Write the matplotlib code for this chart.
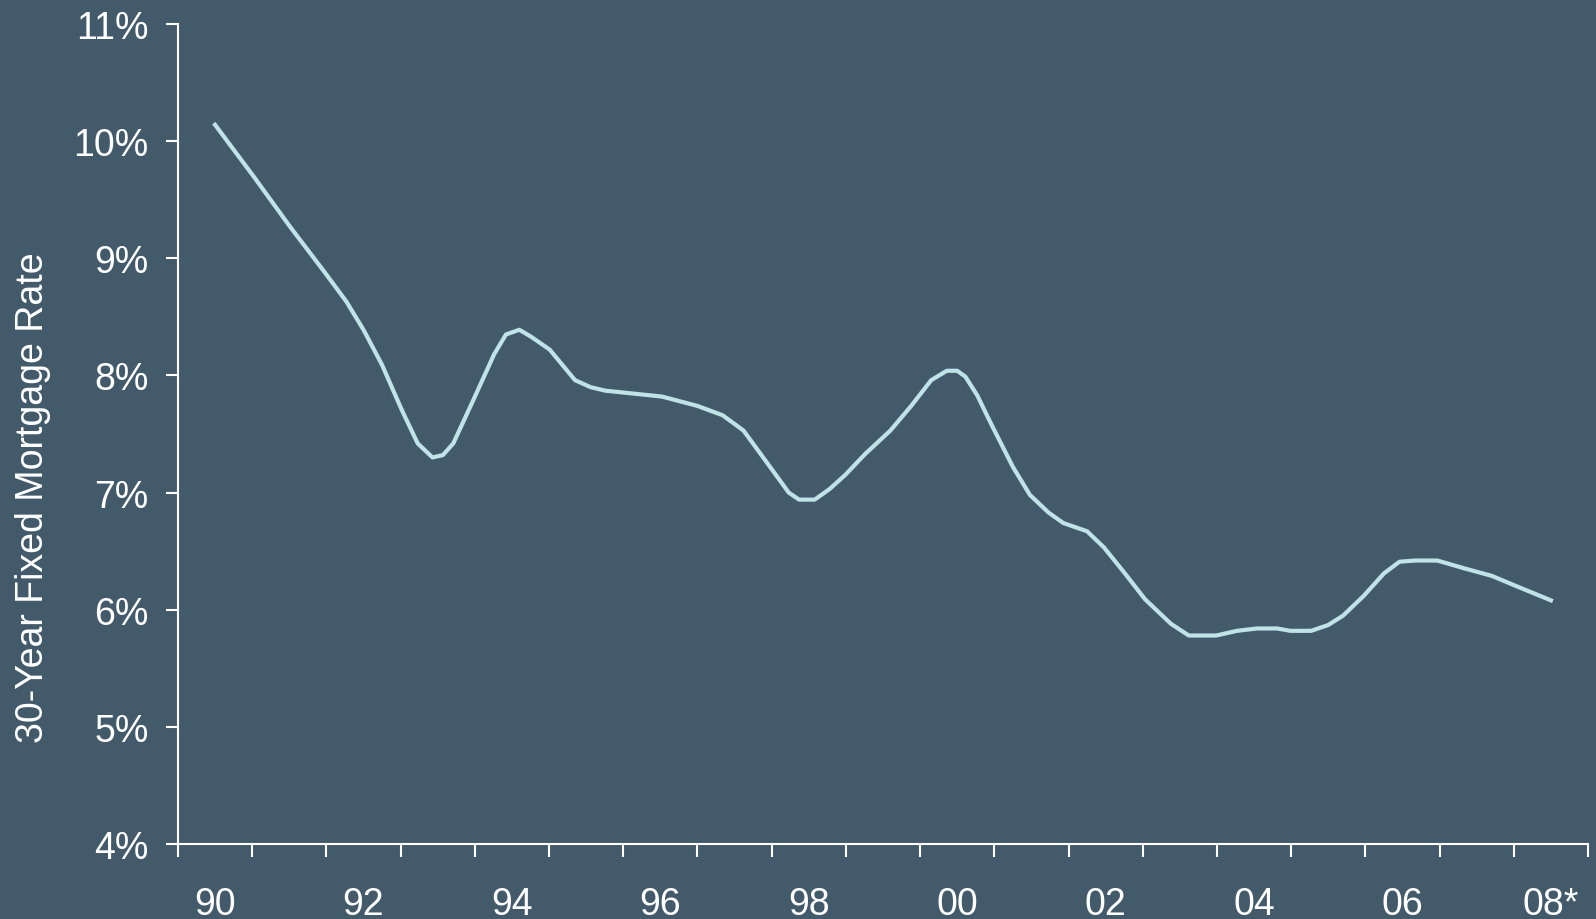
import matplotlib
matplotlib.use("Agg")
import matplotlib.pyplot as plt
import numpy as np

# 30-year fixed mortgage rate (year, percent)
years = [1990.0, 1990.53, 1991.01, 1991.49, 1991.77, 1992.0, 1992.25, 1992.52,
         1992.73, 1992.93, 1993.07, 1993.21, 1993.48, 1993.76, 1993.92, 1994.10,
         1994.26, 1994.51, 1994.85, 1995.06, 1995.26, 1996.02, 1996.50, 1996.84,
         1997.12, 1997.42, 1997.73, 1997.87, 1998.08, 1998.28, 1998.49, 1998.76,
         1999.10, 1999.38, 1999.65, 1999.86, 2000.0, 2000.11, 2000.27, 2000.47,
         2000.75, 2000.98, 2001.23, 2001.43, 2001.75, 2001.98, 2002.26, 2002.53,
         2002.88, 2003.12, 2003.49, 2003.77, 2004.04, 2004.31, 2004.49, 2004.77,
         2005.0, 2005.20, 2005.48, 2005.75, 2005.96, 2006.17, 2006.47, 2006.85,
         2007.20, 2007.54, 2008.0]
rates = [10.14, 9.69, 9.27, 8.87, 8.63, 8.39, 8.09, 7.70,
         7.42, 7.30, 7.32, 7.42, 7.79, 8.18, 8.35, 8.39,
         8.33, 8.22, 7.96, 7.90, 7.87, 7.82, 7.74, 7.66,
         7.53, 7.27, 7.00, 6.94, 6.94, 7.03, 7.15, 7.33,
         7.53, 7.74, 7.96, 8.04, 8.04, 7.99, 7.83, 7.57,
         7.22, 6.98, 6.83, 6.74, 6.67, 6.53, 6.31, 6.09,
         5.88, 5.78, 5.78, 5.82, 5.84, 5.84, 5.82, 5.82,
         5.87, 5.95, 6.12, 6.31, 6.41, 6.42, 6.42, 6.35,
         6.29, 6.20, 6.08]

label_years = [1990, 1992, 1994, 1996, 1998, 2000, 2002, 2004, 2006, 2008]
label_text = ["90", "92", "94", "96", "98", "00", "02", "04", "06", "08*"]
y_ticks = [4, 5, 6, 7, 8, 9, 10, 11]

bg = "#435a6b"
line_col = "#bfe3e6"

plt.rcParams["font.family"] = ["Liberation Sans", "DejaVu Sans"]

fig = plt.figure(figsize=(15.96, 9.2), dpi=100, facecolor=bg)
ax = fig.add_axes([0.1115, 0.0815, 0.8835, 0.8913], facecolor=bg)

ax.plot(years, rates, color=line_col, lw=3.0, solid_joinstyle="round")

ax.set_xlim(1989.5, 2008.5)
ax.set_ylim(4, 11)

# tick marks at year boundaries, labels at year centres
ax.set_xticks(np.arange(1989.5, 2009.0, 1.0))
ax.set_xticklabels([])
ax.set_xticks(label_years, minor=True)
ax.set_xticklabels(label_text, minor=True)
ax.tick_params(axis="x", which="major", direction="out", length=9,
               width=1.5, color="white")
ax.tick_params(axis="x", which="minor", length=0, pad=30,
               labelsize=27, labelcolor="white")

ax.set_yticks(y_ticks)
ax.set_yticklabels([f"{v}%" for v in y_ticks])
ax.tick_params(axis="y", direction="out", length=9, width=1.5,
               color="white", labelsize=27, labelcolor="white", pad=12)

for side in ["top", "right"]:
    ax.spines[side].set_visible(False)
for side in ["left", "bottom"]:
    ax.spines[side].set_color("white")
    ax.spines[side].set_linewidth(1.5)

fig.text(33 / 1596, 0.4587, "30-Year Fixed Mortgage Rate", rotation=90,
         color="white", fontsize=27, ha="center", va="center")

fig.savefig("out.png", dpi=100, facecolor=bg)
